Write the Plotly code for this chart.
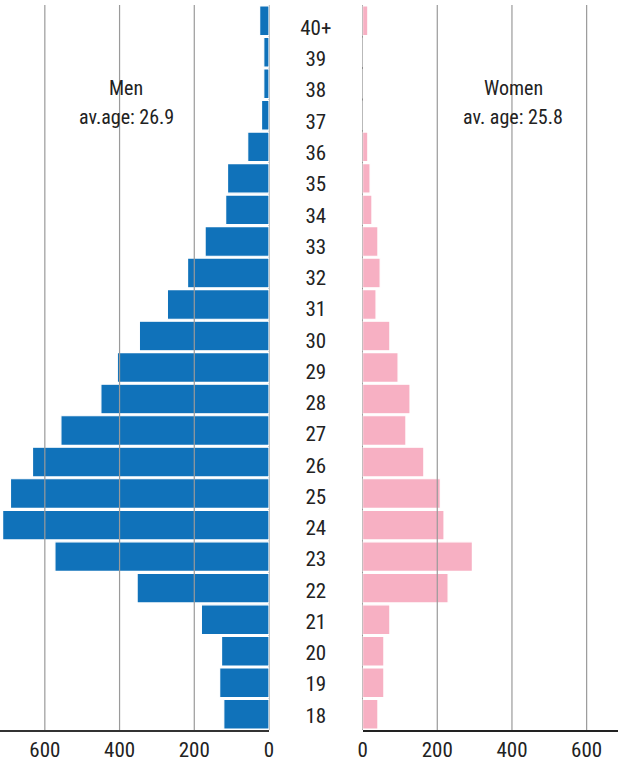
import plotly.graph_objects as go

AGES = ["18", "19", "20", "21", "22", "23", "24", "25", "26", "27", "28",
        "29", "30", "31", "32", "33", "34", "35", "36", "37", "38", "39", "40+"]
MEN = [121, 132, 127, 181, 353, 573, 713, 692, 633, 557, 450,
       406, 347, 272, 218, 171, 116, 111, 57, 20, 14, 14, 25]
WOMEN = [41, 57, 57, 73, 229, 294, 218, 208, 164, 116, 127,
         95, 73, 36, 47, 41, 25, 20, 14, 0, 0, 0, 14]
TICKS = [0, 200, 400, 600]
GRID = [200, 400, 600]

MEN_COLOR = "#1072BA"
WOMEN_COLOR = "#F7B0C3"
FONT = "Roboto Condensed, Roboto, sans-serif"
TEXT = "#222222"

W, H = 618, 763
MT, MB = 5, 33
LEFT_END = 269 / W
RIGHT_START = 362.6 / W

fig = go.Figure()
fig.add_trace(go.Bar(x=MEN, y=AGES, orientation="h", xaxis="x", yaxis="y",
                     marker=dict(color=MEN_COLOR, line=dict(color="white", width=1.2)),
                     showlegend=False, hoverinfo="x+y"))
fig.add_trace(go.Bar(x=WOMEN, y=AGES, orientation="h", xaxis="x2", yaxis="y",
                     marker=dict(color=WOMEN_COLOR, line=dict(color="white", width=1.2)),
                     showlegend=False, hoverinfo="x+y"))
# age labels in the middle column (index positions on a helper axis)
fig.add_trace(go.Scatter(x=[0] * len(AGES), y=list(range(len(AGES))), mode="text", text=AGES,
                         textposition="middle center", xaxis="x3", yaxis="y2",
                         textfont=dict(family=FONT, size=21, color=TEXT),
                         showlegend=False, hoverinfo="skip"))

shapes = []
for g in GRID:
    for xr in ("x", "x2"):
        shapes.append(dict(type="line", xref=xr, yref="y domain", x0=g, x1=g, y0=0, y1=1,
                           line=dict(color="#9a9a9a", width=1.2), layer="above"))

fig.update_layout(
    width=W, height=H,
    margin=dict(l=0, r=0, t=MT, b=MB, autoexpand=False),
    paper_bgcolor="white", plot_bgcolor="white",
    bargap=0.06,
    shapes=shapes,
    font=dict(family=FONT, color=TEXT),
    xaxis=dict(domain=[0, LEFT_END], range=[720, 0], tickvals=TICKS,
               showgrid=False, zeroline=True, zerolinecolor="#c4c4c4", zerolinewidth=2,
               showline=True, linecolor="#333333", linewidth=1.5, ticks="",
               automargin=False,
               tickfont=dict(family=FONT, size=21, color=TEXT), anchor="y"),
    xaxis2=dict(domain=[RIGHT_START, 1], range=[0, 684], tickvals=TICKS,
                showgrid=False, zeroline=True, zerolinecolor="#8a8a8a", zerolinewidth=1.2,
                showline=True, linecolor="#222222", linewidth=1.5, ticks="",
                automargin=False,
                tickfont=dict(family=FONT, size=21, color=TEXT), anchor="y"),
    xaxis3=dict(domain=[LEFT_END, RIGHT_START], range=[-1, 1], visible=False, anchor="y2"),
    yaxis=dict(type="category", categoryorder="array", categoryarray=AGES,
               range=[-0.5, len(AGES) - 0.5], showticklabels=False, showgrid=False,
               zeroline=False, showline=False, ticks="", automargin=False),
    yaxis2=dict(range=[-0.40, 22.79], visible=False, overlaying="y", anchor="x3"),
)

annots = [
    ("Men", 126 / W, 88),
    ("av.age: 26.9", 126 / W, 117),
    ("Women", 513 / W, 88),
    ("av. age: 25.8", 513 / W, 117),
]
plot_h = H - MT - MB
for txt, xp, ypx in annots:
    fig.add_annotation(text=txt, x=xp, y=(H - MB - ypx) / plot_h, xref="paper", yref="paper",
                       showarrow=False, xanchor="center", yanchor="middle",
                       font=dict(family=FONT, size=20, color=TEXT))

fig.write_html("out.html", config={"displayModeBar": False},
               post_script="document.body.style.margin='0';document.body.style.overflow='hidden';")
